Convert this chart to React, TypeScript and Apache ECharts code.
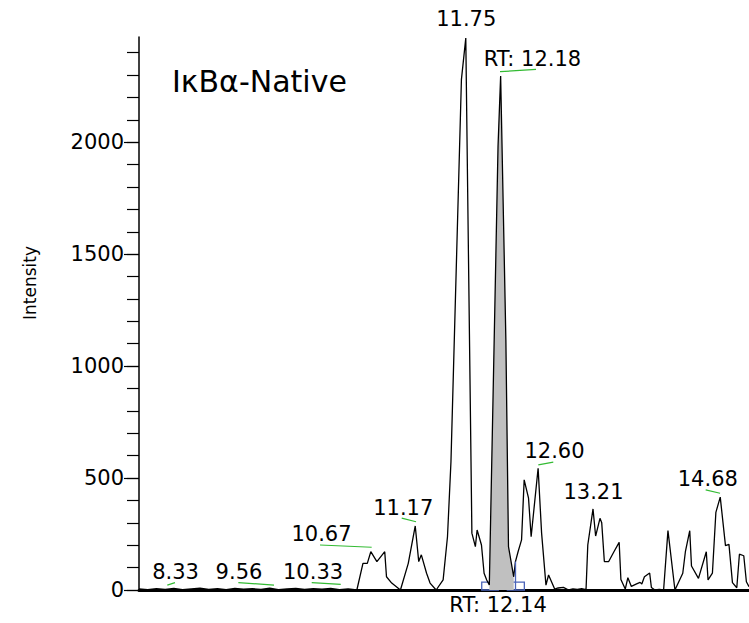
import React, { useEffect, useRef } from "react";
import * as echarts from "echarts";

// Retention time (min) and intensity of the chromatogram trace
const times = [
  8.0, 8.1, 8.2, 8.3, 8.4, 8.5, 8.6, 8.7, 8.8, 8.9, 9.0, 9.1, 9.2, 9.3, 9.4, 9.5, 9.6, 9.7, 9.8, 9.9,
  10.0, 10.1, 10.2, 10.3, 10.4, 10.5,
  10.57, 10.62, 10.66, 10.73, 10.82, 10.84, 10.9, 11.0, 11.09, 11.17, 11.21, 11.24, 11.3, 11.34,
  11.41, 11.49, 11.54, 11.58, 11.7, 11.75, 11.82, 11.86, 11.88, 11.93, 11.96, 11.99, 12.02, 12.12,
  12.15, 12.21, 12.24, 12.3, 12.32, 12.35, 12.39, 12.42, 12.47, 12.5, 12.58, 12.62, 12.67, 12.7,
  12.77, 12.81, 12.87, 12.93, 12.98, 13.03, 13.08, 13.13, 13.15, 13.21, 13.24, 13.29, 13.31, 13.34,
  13.39, 13.45, 13.51, 13.53, 13.58, 13.61, 13.65, 13.71, 13.75, 13.77, 13.8, 13.86, 13.88, 13.92,
  13.97, 14.02, 14.07, 14.15, 14.24, 14.27, 14.32, 14.34, 14.42, 14.51, 14.53, 14.58, 14.62, 14.67,
  14.73, 14.77, 14.81, 14.86, 14.89, 14.94, 14.97, 15.0,
];
const intensities = [
  5, 2, 6, 3, 7, 2, 5, 8, 3, 6, 2, 7, 4, 6, 3, 8, 2, 5, 7, 3,
  6, 4, 7, 2, 5, 0,
  119, 119, 171, 127, 171, 59, 31, 0, 119, 286, 127, 157, 75, 31,
  0, 45, 238, 574, 2281, 2465, 254, 194, 268, 201, 75, 45, 22, 1981,
  2296, 1118, 194, 59, 127, 171, 224, 492, 410, 238, 544, 254, 22, 67,
  4, 9, 12, 0, 5, 3, 6, 2, 201, 362, 241, 320, 300, 127,
  127, 171, 213, 47, 4, 55, 16, 27, 34, 27, 59, 76, 11, 0,
  3, 0, 265, 0, 75, 171, 265, 107, 52, 171, 45, 75, 347, 415,
  198, 204, 33, 10, 160, 153, 37, 15,
];

// Integrated peak window (shaded)
const peakStart = 12.02;
const peakEnd = 12.3;

// Y axis ticks
const yMajorTicks = [0, 500, 1000, 1500, 2000];
const yMinorTicks = [
  0, 100, 200, 300, 400, 500, 600, 700, 800, 900, 1000, 1100, 1200, 1300, 1400, 1500, 1600, 1700,
  1800, 1900, 2000, 2100, 2200, 2300, 2400,
];

// Peak annotation texts and their anchor (text centre) in data units
const labelTexts = ["8.33", "9.56", "10.33", "10.67", "11.17", "11.75", "RT: 12.18", "12.60", "13.21", "14.68", "RT: 12.14"];
const labelTimes = [8.425, 9.153, 10.003, 10.1, 11.038, 11.761, 12.521, 12.774, 13.221, 14.533, 12.126];
const labelIntensities = [78, 78, 78, 246, 362, 2549, 2370, 619, 436, 492, -67];

// Green leader segments [t1, i1, t2, i2]
const leaders = [
  [8.325, 22, 8.413, 33],
  [9.14, 33, 9.549, 22],
  [9.982, 33, 10.315, 25],
  [10.077, 201, 10.67, 191],
  [11.015, 321, 11.179, 305],
  [12.143, 2315, 12.556, 2325],
  [12.582, 559, 12.754, 571],
  [14.503, 447, 14.668, 432],
];

// Blue integration boundary boxes [t1, i1, t2, i2]
const boundaryBoxes = [
  [11.933, -13, 12.123, 35],
  [12.227, -13, 12.422, 35],
];
const boundaryLine = [12.315, 0, 12.315, 127];

const FONT = "DejaVu Sans";

export default function App() {
  const ref = useRef<HTMLDivElement>(null);

  useEffect(() => {
    if (!ref.current) return;
    const chart = echarts.init(ref.current, undefined, { renderer: "svg" });

    const trace = times.map((t, i) => [t, intensities[i]]);
    const shaded = trace.filter((p) => p[0] >= peakStart && p[0] <= peakEnd);

    const labelData = labelTexts.map((txt, i) => ({
      name: txt,
      value: [labelTimes[i], labelIntensities[i]],
    }));

    const leaderLines = leaders.map((l) => [
      { coord: [l[0], l[1]] },
      { coord: [l[2], l[3]] },
    ]);

    chart.setOption({
      animation: false,
      backgroundColor: "#ffffff",
      grid: { left: 139, right: 0, top: 37, bottom: 33, containLabel: false },
      xAxis: {
        type: "value",
        min: 8,
        max: 15,
        axisLine: { show: true, lineStyle: { color: "#000", width: 3 } },
        axisTick: { show: false },
        axisLabel: { show: false },
        splitLine: { show: false },
      },
      yAxis: [
        {
          type: "value",
          min: 0,
          max: 2470,
          position: "left",
          axisLine: { show: true, lineStyle: { color: "#000", width: 1.5 } },
          axisTick: {
            show: true,
            length: 12,
            customValues: yMinorTicks,
            lineStyle: { color: "#000", width: 1.2 },
          },
          axisLabel: { show: false },
          splitLine: { show: false },
        },
        {
          type: "value",
          min: 0,
          max: 2470,
          position: "left",
          axisLine: { show: false },
          axisTick: {
            show: true,
            length: 15,
            customValues: yMajorTicks,
            lineStyle: { color: "#000", width: 1.2 },
          },
          axisLabel: {
            show: true,
            customValues: yMajorTicks,
            formatter: (v: number) => String(v),
            margin: 15,
            color: "#000",
            fontSize: 21,
            fontFamily: FONT,
          },
          splitLine: { show: false },
        },
      ],
      graphic: [
        {
          type: "text",
          left: 172,
          top: 66,
          style: {
            text: "IκBα-Native",
            fontSize: 30,
            fontFamily: FONT,
            fill: "#000",
          },
        },
        {
          type: "text",
          x: 30,
          y: 283,
          rotation: Math.PI / 2,
          style: {
            text: "Intensity",
            fontSize: 17,
            fontFamily: FONT,
            fill: "#000",
            align: "center",
            verticalAlign: "middle",
          },
        },
      ],
      series: [
        {
          type: "line",
          data: shaded,
          showSymbol: false,
          symbol: "none",
          lineStyle: { width: 0 },
          areaStyle: { color: "#c0c0c0", opacity: 1 },
          z: 1,
          silent: true,
          markLine: {
            silent: true,
            symbol: ["none", "none"],
            label: { show: false },
            lineStyle: { color: "#4a63b8", width: 1.3, type: "solid" },
            data: [
              [
                { coord: [boundaryLine[0], boundaryLine[1]] },
                { coord: [boundaryLine[2], boundaryLine[3]] },
              ],
            ],
          },
        },
        {
          type: "line",
          data: trace,
          showSymbol: false,
          symbol: "none",
          lineStyle: { color: "#000", width: 1.3 },
          z: 2,
          silent: true,
        },
        {
          type: "scatter",
          data: labelData,
          symbolSize: 1,
          clip: false,
          itemStyle: { color: "rgba(0,0,0,0)", opacity: 1 },
          silent: true,
          z: 5,
          label: {
            show: true,
            position: [0, 0],
            formatter: "{b}",
            color: "#000",
            textBorderWidth: 0,
            fontSize: 21,
            fontFamily: FONT,
            align: "center",
            verticalAlign: "middle",
          },
          markLine: {
            silent: true,
            symbol: ["none", "none"],
            label: { show: false },
            lineStyle: { color: "#33bb33", width: 1.2, type: "solid" },
            data: leaderLines,
          },
          markArea: {
            silent: true,
            itemStyle: { color: "rgba(0,0,0,0)", borderColor: "#4a63b8", borderWidth: 1.3 },
            label: { show: false },
            data: boundaryBoxes.map((b) => [
              { coord: [b[0], b[1]] },
              { coord: [b[2], b[3]] },
            ]),
          },
        },
      ],
    });

    return () => chart.dispose();
  }, []);

  return (
    <div
      ref={ref}
      style={{ position: "fixed", left: 0, top: 0, width: 749, height: 623, background: "#fff" }}
    />
  );
}
